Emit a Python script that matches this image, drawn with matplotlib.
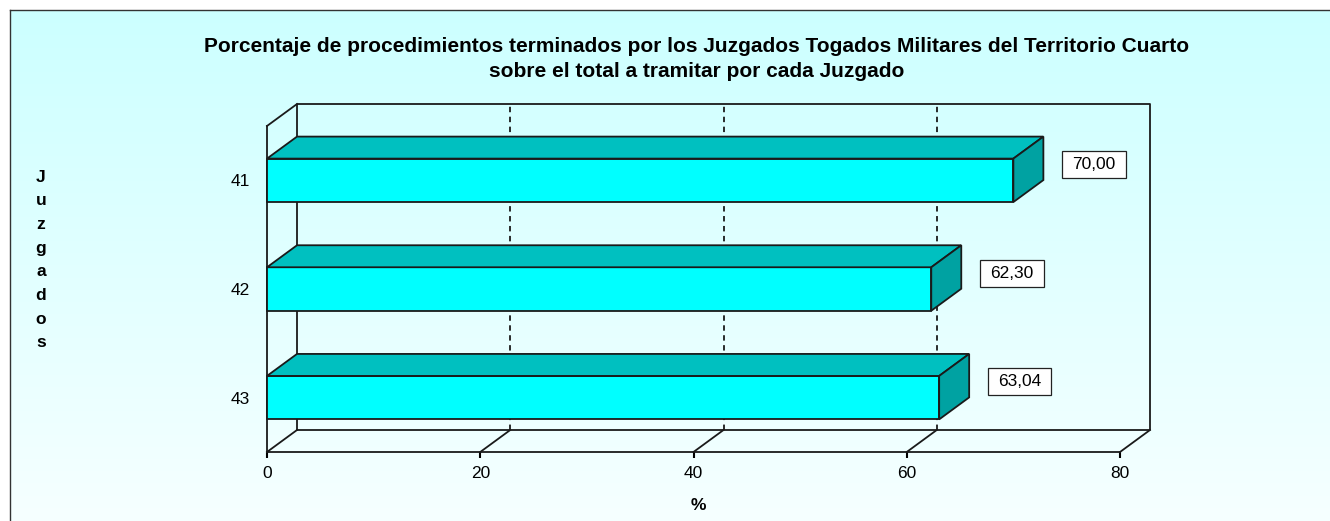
import numpy as np
import matplotlib
matplotlib.use("Agg")
import matplotlib.pyplot as plt
from matplotlib.patches import Polygon, Rectangle
from matplotlib.path import Path
from matplotlib.colors import LinearSegmentedColormap

plt.rcParams['font.family'] = ['Liberation Sans', 'DejaVu Sans']

# data
juzgados = ['41', '42', '43']
porcentajes = [70.00, 62.30, 63.04]
etiquetas = ['70,00', '62,30', '63,04']
xticks = [0, 20, 40, 60, 80]

title = ('Porcentaje de procedimientos terminados por los Juzgados Togados Militares del Territorio Cuarto\n'
         'sobre el total a tramitar por cada Juzgado')

W, H = 1330, 521
fig = plt.figure(figsize=(W / 100, H / 100), dpi=100)
fig.patch.set_facecolor('white')

# background gradient panel with border
bg = fig.add_axes([10 / W, 0, 1 - 10 / W, 1 - 10 / H], zorder=-10)
cmap = LinearSegmentedColormap.from_list('bg', ['#ccffff', '#f6ffff'])
bg.imshow(np.linspace(0, 1, 256)[:, None], aspect='auto', cmap=cmap,
          extent=[0, 1, 0, 1], origin='upper')
bg.set_xticks([])
bg.set_yticks([])
for s in ['right', 'bottom']:
    bg.spines[s].set_visible(False)
for s in ['left', 'top']:
    bg.spines[s].set_color('#333333')
    bg.spines[s].set_linewidth(1.0)

# front plane of the 3d plot
x0, x1, ytop, ybot = 267, 1120, 126, 452
ax = fig.add_axes([x0 / W, (H - ybot) / H, (x1 - x0) / W, (ybot - ytop) / H])
ax.patch.set_alpha(0)
ax.set_xlim(0, 80)
ax.set_ylim(len(juzgados), 0)

# depth offset (pixels -> data)
DX_PX, DY_PX = 30, 22
ddx = 80 * DX_PX / (x1 - x0)
ddy = -len(juzgados) * DY_PX / (ybot - ytop)
ny = len(juzgados)

lc = '#1a1a1a'
lw = 1.3
kw = dict(color=lc, lw=lw, clip_on=False, zorder=1)

# back wall + floor outline
ax.plot([ddx, ddx, 80 + ddx, 80 + ddx, ddx],
        [ny + ddy, ddy, ddy, ny + ddy, ny + ddy], **kw)
ax.plot([0, ddx], [0, ddy], **kw)
for t in xticks:
    ax.plot([t, t + ddx], [ny, ny + ddy], **kw)
for t in xticks[1:-1]:
    ax.plot([t + ddx, t + ddx], [ny + ddy, ddy], color=lc, lw=1.3,
            ls=(0, (3, 2.5)), clip_on=False, zorder=1)

# bars
hb = 0.4
for i, v in enumerate(porcentajes):
    c = i + 0.5
    yt, yb = c - hb / 2, c + hb / 2
    ax.add_patch(Rectangle((0, yt), v, hb, facecolor='#00ffff', edgecolor=lc,
                           lw=lw, clip_on=False, zorder=3))
    ax.add_patch(Polygon([(0, yt), (v, yt), (v + ddx, yt + ddy), (ddx, yt + ddy)],
                         closed=True, facecolor='#00c0c0', edgecolor=lc, lw=lw,
                         clip_on=False, zorder=3))
    ax.add_patch(Polygon([(v, yt), (v + ddx, yt + ddy), (v + ddx, yb + ddy), (v, yb)],
                         closed=True, facecolor='#00a2a2', edgecolor=lc, lw=lw,
                         clip_on=False, zorder=3))


def label_box(x0, y0, width, height, mutation_size, padx=10, pady=6):
    return Path([(x0 - padx, y0 - pady), (x0 + width + padx, y0 - pady),
                 (x0 + width + padx, y0 + height + pady),
                 (x0 - padx, y0 + height + pady), (x0 - padx, y0 - pady)],
                closed=True)


for i, (v, lab) in enumerate(zip(porcentajes, etiquetas)):
    ax.annotate(lab, xy=(v + ddx, i + 0.5), xytext=(29, 16),
                textcoords='offset pixels', ha='left', va='center',
                fontsize=12.5, zorder=5, annotation_clip=False,
                bbox=dict(boxstyle=label_box, facecolor='white',
                          edgecolor='#222222', lw=0.9))

# axes
for s in ['top', 'right']:
    ax.spines[s].set_visible(False)
for s in ['left', 'bottom']:
    ax.spines[s].set_color(lc)
    ax.spines[s].set_linewidth(lw)
    ax.spines[s].set_zorder(2)
ax.set_xticks(xticks)
ax.set_xticklabels([str(t) for t in xticks], fontsize=12.5)
ax.tick_params(axis='x', direction='out', length=4, width=1.5, pad=6)
ax.set_yticks([i + 0.5 for i in range(ny)])
ax.set_yticklabels(juzgados, fontsize=12.5)
ax.tick_params(axis='y', length=0, pad=12)

fig.text(697 / W, 1 - 59 / H, title, ha='center', va='center',
         fontsize=15, fontweight='bold', linespacing=1.38)
fig.text(698 / W, 1 - 506 / H, '%', ha='center', va='center',
         fontsize=12.5, fontweight='bold')
fig.text(41 / W, 1 - 260 / H, '\n'.join('Juzgados'), ha='center', va='center',
         fontsize=12.5, fontweight='bold', linespacing=1.72)

fig.savefig('out.png', dpi=100)
